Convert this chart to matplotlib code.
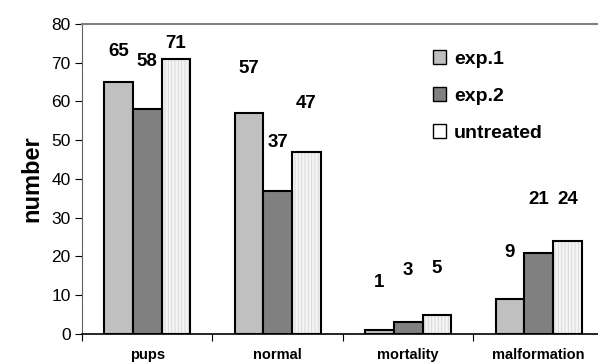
import numpy as np
import matplotlib.pyplot as plt

plt.rcParams['font.family'] = ['Liberation Sans', 'DejaVu Sans']
plt.rcParams['hatch.linewidth'] = 0.6

# datos
categorias = ['pups', 'normal', 'mortality', 'malformation']
series = ['exp.1', 'exp.2', 'untreated']
exp1 = [65, 57, 1, 9]
exp2 = [58, 37, 3, 21]
untreated = [71, 47, 5, 24]

# altura de las etiquetas (como en el original de Excel)
etiqueta_y1 = [72.8, 68.4, 13.2, 20.9]
etiqueta_y2 = [70.2, 49.5, 16.3, 34.6]
etiqueta_y3 = [75.0, 59.6, 16.8, 34.6]

colores = ['#c0c0c0', '#808080', '#f4f4f4']

fig = plt.figure(figsize=(5.98, 3.63), dpi=100)
ax = fig.add_axes([0.137, 0.08, 0.873, 0.854])

x = np.arange(len(categorias))
ancho = 0.22
valores = [exp1, exp2, untreated]
etiquetas_y = [etiqueta_y1, etiqueta_y2, etiqueta_y3]

for i, (vals, ys) in enumerate(zip(valores, etiquetas_y)):
    pos = x + (i - 1) * ancho
    if i == 2:
        ax.bar(pos, vals, ancho, color=colores[i], edgecolor='#d6d6d6',
               hatch='|||||', linewidth=0, zorder=2)
        ax.bar(pos, vals, ancho, color='none', edgecolor='black',
               linewidth=1.5, label=series[i], zorder=3)
    else:
        ax.bar(pos, vals, ancho, color=colores[i], edgecolor='black',
               linewidth=1.5, label=series[i], zorder=3)
    for xp, v, yv in zip(pos, vals, ys):
        ax.text(xp, yv, str(v), ha='center', va='center', fontsize=13.5,
                fontweight='bold')

ax.set_xlim(-0.5, 3.5)
ax.set_ylim(0, 80)
ax.set_yticks(range(0, 81, 10))
ax.tick_params(axis='y', labelsize=12.5, length=5, direction='out', pad=3)
ax.set_xticks(np.arange(-0.5, 3.6, 1.0))
ax.set_xticklabels([])
ax.tick_params(axis='x', length=5, direction='out')
for xp, c in zip(x, categorias):
    ax.text(xp, -5.4, c, ha='center', va='center', fontsize=10.5,
            fontweight='bold')

ax.spines['top'].set_color('#808080')
ax.spines['top'].set_linewidth(1.5)
ax.spines['right'].set_visible(False)
ax.spines['left'].set_color('#606060')
ax.spines['bottom'].set_linewidth(1.2)

ax.set_ylabel('number', fontsize=17, fontweight='bold', labelpad=6)

leg = ax.legend(loc='upper left', bbox_to_anchor=(0.672, 0.915), frameon=False,
                borderpad=0, borderaxespad=0,
                prop={'weight': 'bold', 'size': 14}, handlelength=0.7,
                handleheight=0.7, handletextpad=0.4, labelspacing=1.0)
for h in leg.legend_handles:
    h.set_linewidth(1.0)

fig.savefig('out.png', dpi=100)
